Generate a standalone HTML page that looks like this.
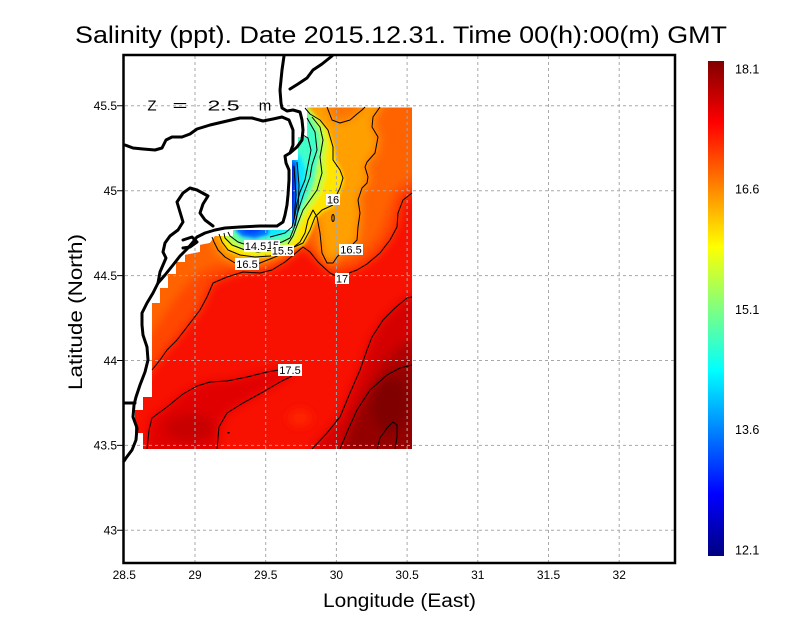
<!DOCTYPE html>
<html><head><meta charset="utf-8"><style>
html,body{margin:0;padding:0;background:#fff;}
svg{display:block;font-family:"Liberation Sans",sans-serif;}
</style></head><body>
<svg width="800" height="618" viewBox="0 0 800 618" xmlns="http://www.w3.org/2000/svg">
<defs>
<clipPath id="fc"><path d="M307,107.5 L412,107.5 L412,449 L143,449 L143,433 L135,433 L135,410 L143,410 L143,397 L152,397 L152,303 L160,303 L160,288 L168,288 L168,274 L176,274 L176,262 L185,262 L185,255 L200,252 L200,245 L210,243 L215,236 L233,236 L233,230 L292,230 L292,160 L298,160 L298,137 L307,137 Z"/></clipPath>
<linearGradient id="jet" x1="0" y1="1" x2="0" y2="0">
<stop offset="0" stop-color="#000080"/><stop offset="0.125" stop-color="#0000ff"/><stop offset="0.375" stop-color="#00ffff"/><stop offset="0.625" stop-color="#ffff00"/><stop offset="0.875" stop-color="#ff0000"/><stop offset="1" stop-color="#800000"/>
</linearGradient>
<filter id="b5" filterUnits="userSpaceOnUse" x="0" y="0" width="800" height="618"><feGaussianBlur stdDeviation="5"/></filter>
<filter id="b2" filterUnits="userSpaceOnUse" x="0" y="0" width="800" height="618"><feGaussianBlur stdDeviation="1.6"/></filter>
</defs>

<!-- title -->
<text x="75" y="43" font-size="24" textLength="652" lengthAdjust="spacingAndGlyphs">Salinity (ppt). Date 2015.12.31. Time 00(h):00(m) GMT</text>

<!-- field -->
<g clip-path="url(#fc)">
<rect x="120" y="95" width="310" height="360" fill="#f81000"/>
<g filter="url(#b5)">
<path fill="#ff4600" d="M110,400 L140,385 L152,370 L167,350 L187,327 L200,310 L213,283 L227,277 L243,272 L270,270 L285,262 L297,252 L303,247 L318,262 L333,275 L350,272 L367,264 L380,253 L390,240 L397,227 L403,200 L412,193 L425,190 L425,95 L110,95 Z"/>
<path fill="#ff6400" d="M110,370 L135,355 L150,335 L165,312 L180,292 L195,275 L215,265 L245,262 L270,260 L290,252 L303,240 L318,250 L335,262 L352,260 L368,248 L380,232 L388,210 L395,190 L412,178 L425,175 L425,95 L110,95 Z"/>
<path fill="#ffa000" d="M385,95 L380,107 L373,117 L372,127 L378,137 L375,153 L367,162 L365,167 L368,177 L367,183 L362,188 L358,200 L360,213 L358,227 L357,240 L350,248 L337,255 L333,263 L327,263 L322,253 L320,233 L317,217 L313,210 L308,220 L305,233 L300,242 L290,250 L275,257 L260,263 L247,265 L235,262 L225,257 L218,250 L214,242 L213,232 L220,220 L290,95 Z"/>
<path fill="#ff7400" d="M322,95 L327,107 L332,120 L340,123 L350,120 L357,114 L362,110 L368,95 Z"/>
<path fill="#e00000" d="M140,455 L147,449 L149,430 L152,418 L167,407 L183,394 L197,386 L210,382 L227,381 L247,377 L267,372 L285,370 L292,375 L280,382 L263,392 L243,403 L227,413 L219,427 L217,455 Z"/>
<ellipse cx="190" cy="428" rx="25" ry="14" fill="#c80000"/>
<path fill="#d40000" d="M412,297 L407,298 L395,308 L383,320 L372,337 L367,350 L360,370 L350,393 L340,417 L327,433 L312,449 L312,455 L425,455 L425,297 Z"/>
<path fill="#b00000" d="M425,335 L400,345 L385,360 L372,380 L362,400 L352,420 L342,455 L425,455 Z"/>
<path fill="#940000" d="M425,365 L412,365 L400,368 L387,375 L370,390 L357,410 L348,430 L340,455 L425,455 Z"/>
<ellipse cx="390" cy="405" rx="18" ry="28" fill="#800000"/>
<ellipse cx="300" cy="418" rx="12" ry="8" fill="#ff2800"/>
</g>
<g filter="url(#b2)">
<path fill="#ffe600" d="M300,95 L308,108 L318,118 L328,130 L334,147 L336,160 L342,172 L344,180 L341,190 L338,198 L333,207 L322,212 L316,220 L311,232 L304,245 L292,249 L282,253 L270,257 L255,258 L240,256 L228,251 L222,242 L219,232 L230,222 L285,222 L285,95 Z"/>
<path fill="#c0ff40" d="M298,95 L315,115 L324,127 L327,142 L325,160 L326,175 L321,192 L314,203 L306,213 L300,225 L295,238 L288,246 L271,251 L258,253 L245,251 L232,246 L225,238 L224,228 L285,222 L285,95 Z"/>
<path fill="#70ff90" d="M295,95 L311,116 L320,132 L321,150 L317,167 L315,182 L309,197 L303,208 L299,218 L295,230 L290,240 L282,243 L268,245 L250,246 L238,243 L230,237 L228,226 L285,222 L285,95 Z"/>
<path fill="#40ffc8" d="M293,100 L309,120 L317,136 L318,155 L314,175 L309,192 L303,205 L298,217 L293,230 L287,237 L270,241 L250,242 L240,239 L234,232 L234,224 L285,222 L285,100 Z"/>
<path fill="#10e8ff" d="M288,150 L301,155 L306,170 L304,190 L300,205 L296,220 L291,230 L275,236 L255,238 L242,236 L236,226 L285,222 Z"/>
<path fill="#0070ff" d="M286,158 L297,160 L298,180 L297,205 L295,226 L286,228 Z"/>
<path fill="#0070ff" d="M234,224 L270,224 L268,235 L255,239 L242,237 L236,232 Z"/>
<path fill="#0010d0" d="M286,163 L294.5,165 L295,190 L294,210 L292,222 L286,224 Z"/>
<path fill="#0040ff" d="M240,224 L262,224 L260,232 L250,234 L244,232 Z"/>
</g>
</g>

<!-- gridlines -->
<g stroke="#a8a8a8" stroke-width="1" stroke-dasharray="3,3" fill="none">
<path d="M195,56 V562 M265.7,56 V562 M336.4,56 V562 M407.1,56 V562 M477.8,56 V562 M548.5,56 V562 M619.2,56 V562"/>
<path d="M125,105.8 H674 M125,190.7 H674 M125,275.6 H674 M125,360.5 H674 M125,445.4 H674 M125,530.3 H674"/>
</g>

<!-- contours -->
<g stroke="#000" stroke-width="1" fill="none" stroke-linejoin="round">
<path d="M147,449 L149,430 L152,418 L167,407 L183,394 L197,386 L210,382 L227,381 L247,377 L267,372 L279,370"/>
<path d="M292,376 L280,382 L263,392 L243,403 L227,413 L219,427 L217,449"/>
<path d="M412,297 L407,298 L395,308 L383,320 L372,337 L367,350 L360,370 L350,393 L340,417 L327,433 L312,449"/>
<path d="M412,365 L400,368 L387,375 L370,390 L357,410 L348,430 L340,449"/>
<path d="M377,449 L380,438 L387,428 L393,422 L397,425 L397,437 L395,449"/>
<path d="M152,370 L160,360 L167,350 L177,340 L187,327 L200,310 L207,297 L213,283 L227,277 L243,272 L260,273 L272,270 L285,262 L297,252 L303,247 L310,252 L318,262 L330,273 L336,276"/>
<path d="M349,273 L357,270 L367,264 L380,253 L390,240 L397,227 L398,213 L403,200 L412,193"/>
<path d="M380,107 L373,117 L372,127 L378,137 L375,153 L367,162 L365,167 L368,177 L367,183 L362,188 L358,200 L360,213 L358,227 L357,240 L353,244"/>
<path d="M340,254 L337,257 L333,263 L327,263 L322,253 L320,233 L317,217 L313,210 L308,220 L305,233 L300,242 L290,250 L275,257 L260,263 L258,264"/>
<path d="M235,263 L225,257 L218,250 L214,242 L212,237"/>
<path d="M327,107 L332,120 L340,123 L350,120 L357,114 L362,110 L365,107"/>
<ellipse cx="333" cy="218" rx="1.2" ry="3.5"/>
<path d="M305,108 L310,114 L320,120 L328,130 L333,147 L333,160 L340,170 L343,178 L340,188 L337,194"/>
<path d="M333,205 L322,210 L315,217 L310,230 L303,243 L292,248 L282,252 L270,256 L255,257 L240,255 L228,250 L222,242 L219,234"/>
<path d="M312,117 L320,127 L323,140 L320,157 L322,173 L317,190 L310,200 L303,210 L298,223 L293,236 L288,244"/>
<path d="M271,250 L258,252 L245,250 L232,245 L225,238 L224,233"/>
<path d="M307,118 L315,132 L317,150 L312,165 L310,177 L304,193 L300,205 L297,215 L294,228 L290,238 L282,242 L278,243"/>
<path d="M244,244 L238,242 L230,236 L228,232"/>
<path d="M303,135 L308,138 L311,150 L308,165 L305,180 L300,192 L297,203 L295,215 L292,227 L285,233 L270,237"/>
<path d="M297,162 L299,185 L298,210 L295,226"/>
<path d="M294,166 L296,195 L294,220"/>
<rect x="227.5" y="432" width="2" height="1.5" fill="#000" stroke="none"/>
</g>

<!-- contour labels -->
<g font-size="11" text-anchor="middle">
<rect x="326" y="194" width="14" height="11" fill="#fff"/><text x="333" y="203.5">16</text>
<rect x="244" y="240" width="23" height="12" fill="#fff"/><text x="255.5" y="250">14.5</text>
<rect x="266" y="240" width="14" height="10" fill="#fff"/><text x="273" y="249">15</text>
<rect x="271" y="245" width="23" height="11" fill="#fff"/><text x="282.5" y="254.5">15.5</text>
<rect x="235" y="258" width="24" height="12" fill="#fff"/><text x="247" y="268">16.5</text>
<rect x="339" y="244" width="24" height="11" fill="#fff"/><text x="351" y="253.5">16.5</text>
<rect x="335" y="273" width="14" height="11" fill="#fff"/><text x="342" y="282.5">17</text>
<rect x="278" y="364" width="24" height="12" fill="#fff"/><text x="290" y="374">17.5</text>
</g>

<!-- coastline -->
<g stroke="#000" stroke-width="3" fill="none" stroke-linejoin="round" stroke-linecap="round">
<path d="M332,56 L322,64 L313,70 L307,78 L298,84 L290,89"/>
<path d="M284,56 L282,70 L280,90 L281,103 L282,108 L287,111 L293,110 L300,112 L302,120 L303,130 L302,140 L297,147 L290,153 L285,156 L286,163 L289,170 L289,180 L288,195 L287,205 L285,215 L283,222 L277,226 L260,226 L240,227 L225,228 L215,230 L205,233 L197,237 L193,242 L188,248 L180,256 L173,265 L165,275 L158,283 L153,293 L147,303 L142,313 L142,325 L143,335 L147,347 L148,360 L145,372 L140,385 L136,397 L134,405 L133,417 L137,428 L136,440 L132,450 L126,458 L124,461"/>
<path d="M125,145 L133,148 L143,149 L155,150 L162,148 L166,140 L172,137 L182,137 L190,134 L197,129 L210,125 L227,121 L240,118 L252,118 L263,121 L273,119 L282,117 L289,120 L293,130 L293,145 L290,153"/>
<path d="M213,226 L205,220 L200,213 L203,204 L208,196 L197,190 L190,188 L183,193 L177,202 L180,212 L183,222 L178,230 L170,236 L165,243 L163,252 L166,258 L163,265 L160,272 L158,283"/>
<path d="M183,240 L192,237 L197,242 L190,247 L183,248"/>
<path d="M125,403 L135,403"/>
</g>

<!-- Z label -->
<g font-size="15" text-anchor="middle">
<text x="152" y="110.5">Z</text>
<text x="180" y="110.5" textLength="15" lengthAdjust="spacingAndGlyphs">=</text>
<text x="223.5" y="110.5" textLength="32" lengthAdjust="spacingAndGlyphs">2.5</text>
<text x="265" y="110.5">m</text>
</g>

<!-- frame -->
<rect x="123.5" y="55" width="551.5" height="508" fill="none" stroke="#000" stroke-width="2.5"/>

<!-- y ticks -->
<g stroke="#000" stroke-width="1">
<path d="M117,105.8 H123 M117,190.7 H123 M117,275.6 H123 M117,360.5 H123 M117,445.4 H123 M117,530.3 H123"/>
</g>
<g font-size="12" text-anchor="end">
<text x="117" y="110">45.5</text>
<text x="117" y="195">45</text>
<text x="117" y="280">44.5</text>
<text x="117" y="365">44</text>
<text x="117" y="449.5">43.5</text>
<text x="117" y="534.5">43</text>
</g>
<g font-size="12" text-anchor="middle">
<text x="124.3" y="579">28.5</text>
<text x="195" y="579">29</text>
<text x="265.7" y="579">29.5</text>
<text x="336.4" y="579">30</text>
<text x="407.1" y="579">30.5</text>
<text x="477.8" y="579">31</text>
<text x="548.5" y="579">31.5</text>
<text x="619.2" y="579">32</text>
</g>

<!-- axis titles -->
<text x="323" y="607" font-size="19" textLength="153" lengthAdjust="spacingAndGlyphs">Longitude (East)</text>
<text transform="translate(82,312) rotate(-90)" x="0" y="0" font-size="19" text-anchor="middle" textLength="156" lengthAdjust="spacingAndGlyphs">Latitude (North)</text>

<!-- colorbar -->
<rect x="708" y="61" width="16" height="495" fill="url(#jet)"/>
<g font-size="12.5">
<text x="735" y="73.5">18.1</text>
<text x="735" y="193.5">16.6</text>
<text x="735" y="314">15.1</text>
<text x="735" y="434">13.6</text>
<text x="735" y="554.5">12.1</text>
</g>
</svg>
</body></html>
